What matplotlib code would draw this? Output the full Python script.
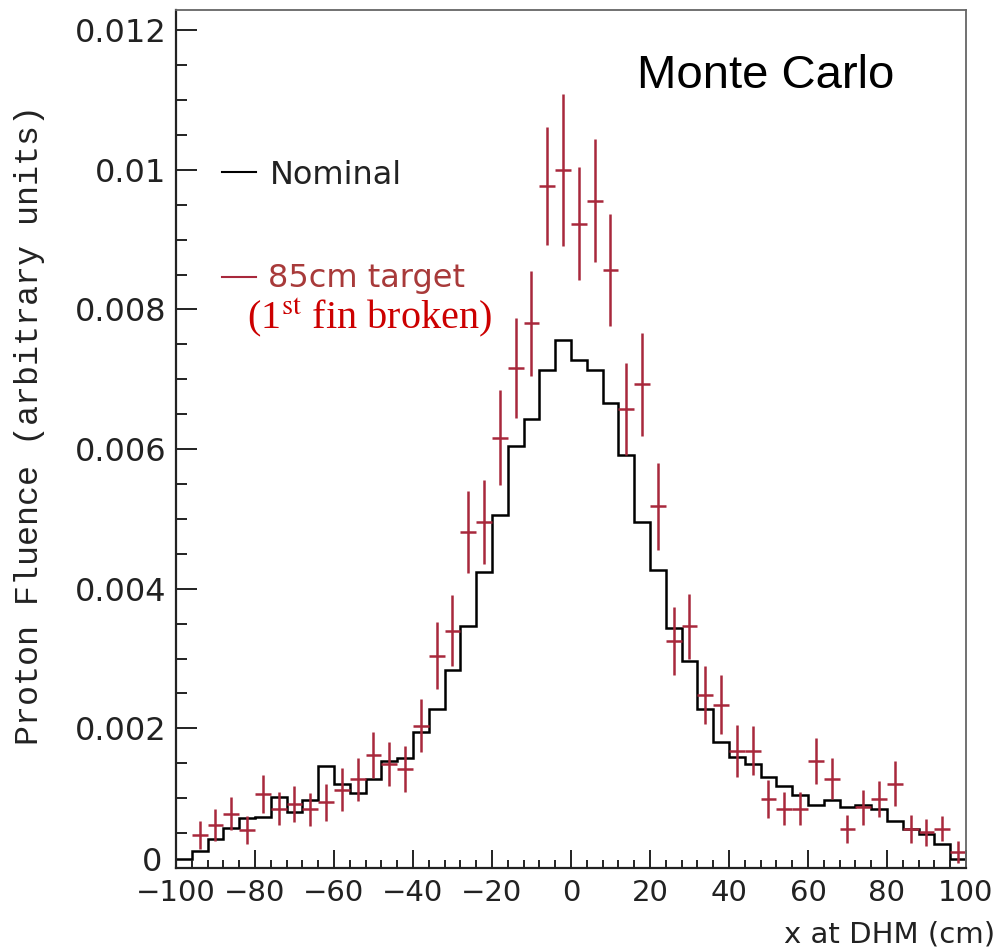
import numpy as np
import matplotlib
matplotlib.use("Agg")
import matplotlib.pyplot as plt
import matplotlib.transforms as mtransforms
from matplotlib.lines import Line2D
from matplotlib.ticker import MultipleLocator

plt.rcParams["mathtext.fontset"] = "stix"

# bin edges (4 cm bins) and values
edges = np.linspace(-100, 100, 51)
centers = 0.5 * (edges[:-1] + edges[1:])

nominal = [0.00013, 0.00025, 0.00042, 0.00058, 0.00072, 0.00073, 0.00102, 0.00080,
           0.00098, 0.00146, 0.00121, 0.00108, 0.00128, 0.00153, 0.00157, 0.00195,
           0.00228, 0.00283, 0.00346, 0.00424, 0.00505, 0.00604, 0.00643, 0.00713,
           0.00756, 0.00728, 0.00713, 0.00666, 0.00591, 0.00496, 0.00427, 0.00344,
           0.00296, 0.00228, 0.00180, 0.00159, 0.00149, 0.00130, 0.00118, 0.00104,
           0.00090, 0.00097, 0.00087, 0.00090, 0.00085, 0.00068, 0.00056, 0.00049,
           0.00035, 0.00013]

target85 = [np.nan, 0.00047, 0.00061, 0.00078, 0.00055, 0.00106, 0.00085, 0.00092,
            0.00084, 0.00094, 0.00112, 0.00127, 0.00162, 0.00149, 0.00142, 0.00204,
            0.00304, 0.00340, 0.00481, 0.00496, 0.00616, 0.00716, 0.00780, 0.00977,
            0.01000, 0.00923, 0.00956, 0.00857, 0.00657, 0.00693, 0.00518, 0.00325,
            0.00346, 0.00248, 0.00234, 0.00168, 0.00168, 0.00099, 0.00085, 0.00085,
            0.00153, 0.00128, 0.00056, 0.00087, 0.00099, 0.00121, 0.00056, 0.00051,
            0.00056, 0.00023]

target85_err = [np.nan, 0.00020, 0.00023, 0.00024, 0.00020, 0.00027, 0.00024, 0.00026,
                0.00024, 0.00027, 0.00031, 0.00031, 0.00033, 0.00032, 0.00033, 0.00038,
                0.00048, 0.00051, 0.00059, 0.00060, 0.00068, 0.00072, 0.00075, 0.00084,
                0.00109, 0.00081, 0.00088, 0.00080, 0.00066, 0.00074, 0.00062, 0.00049,
                0.00047, 0.00042, 0.00042, 0.00037, 0.00035, 0.00027, 0.00024, 0.00024,
                0.00033, 0.00029, 0.00020, 0.00025, 0.00026, 0.00032, 0.00020, 0.00019,
                0.00018, 0.00016]

ytick_vals = [0, 0.002, 0.004, 0.006, 0.008, 0.01, 0.012]
ytick_labels = ["0", "0.002", "0.004", "0.006", "0.008", "0.01", "0.012"]
xtick_vals = [-100, -80, -60, -40, -20, 0, 20, 40, 60, 80, 100]

W, H = 1003, 952
fig = plt.figure(figsize=(W / 100, H / 100), dpi=100)
ax = fig.add_axes([176 / W, 1 - 868 / H, (966 - 176) / W, (868 - 10) / H])

red = "#a8283c"
ax.stairs(nominal, edges, baseline=None, color="black", lw=1.8)
ax.errorbar(centers, target85, xerr=2, yerr=target85_err, fmt="none",
            ecolor=red, elinewidth=1.8, capsize=0)

ax.set_xlim(-100, 100)
ax.set_ylim(0, 0.01229)

ax.set_yticks(ytick_vals)
ax.set_yticklabels(ytick_labels)
ax.set_xticks(xtick_vals)
ax.xaxis.set_minor_locator(MultipleLocator(4))
ax.yaxis.set_minor_locator(MultipleLocator(0.0005))
ax.tick_params(axis="both", which="both", direction="in", top=False, right=False,
               width=1.4, colors="#222222")
ax.tick_params(axis="y", which="major", length=15, pad=7, labelsize=23)
ax.tick_params(axis="y", which="minor", length=8)
ax.tick_params(axis="x", which="major", length=13, pad=8, labelsize=21)
ax.tick_params(axis="x", which="minor", length=6)

# the "0" on the y axis sits a little higher and further left, ROOT style
zero_label = ax.get_yticklabels()[0]
zero_label.set_transform(zero_label.get_transform() +
                         mtransforms.ScaledTranslation(-4 / 100, 9 / 100, fig.dpi_scale_trans))

for side in ["left", "bottom"]:
    ax.spines[side].set_linewidth(1.6)
    ax.spines[side].set_color("#222222")
for side in ["top", "right"]:
    ax.spines[side].set_linewidth(1.3)
    ax.spines[side].set_color("#666666")

# axis titles
fig.text(995 / W, 1 - 935 / H, "x at DHM (cm)", ha="right", va="center",
         fontsize=21, color="#222222")
fig.text(30 / W, 1 - 425 / H, "Proton Fluence (arbitrary units)", rotation=90,
         ha="center", va="center", fontsize=24, family="Liberation Mono",
         color="#222222")

# legend
fig.add_artist(Line2D([222 / W, 256 / W], [1 - 172 / H, 1 - 172 / H],
                      color="black", lw=1.5, transform=fig.transFigure))
fig.text(270 / W, 1 - 184 / H, "Nominal", ha="left", va="baseline",
         fontsize=23, color="#222222")
fig.add_artist(Line2D([222 / W, 256 / W], [1 - 277 / H, 1 - 277 / H],
                      color=red, lw=1.5, transform=fig.transFigure))
fig.text(268 / W, 1 - 287 / H, "85cm target", ha="left", va="baseline",
         fontsize=23, color="#a83a3a")
fig.text(247 / W, 1 - 329 / H, r"(1$^{\mathrm{st}}$ fin broken)", ha="left",
         va="baseline", fontsize=29, family="Liberation Serif", color="#cc0000")

fig.text(637 / W, 1 - 88 / H, "Monte Carlo", ha="left", va="baseline",
         fontsize=34, family="Liberation Sans", color="black")

fig.savefig("out.png", dpi=100)
